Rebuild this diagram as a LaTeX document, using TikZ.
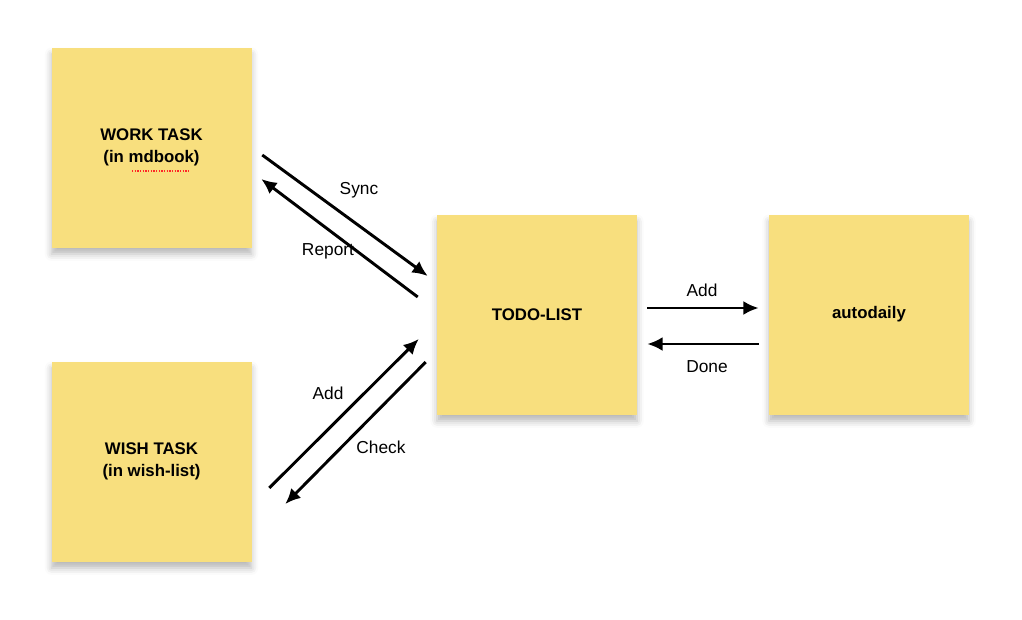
\documentclass[tikz,border=0pt]{standalone}
\usepackage{fontspec}
\setmainfont{Liberation Sans}
\usetikzlibrary{positioning,arrows.meta,shadows.blur}

\definecolor{stickyYellow}{HTML}{F8DF7E}

\begin{document}
\begin{tikzpicture}[x=0.75pt,y=-0.75pt,>={Latex[length=11.5pt,width=10.5pt]},
  note/.style={fill=stickyYellow,minimum size=150pt,inner sep=0pt,align=center,
    font=\fontsize{12.6}{16.2}\selectfont\bfseries,
    blur shadow={shadow xshift=0pt,shadow yshift=-5pt,shadow blur radius=5pt,shadow opacity=28}},
  lbl/.style={font=\fontsize{13}{15}\selectfont},
  flow/.style={->,line width=2.2pt}]
\useasboundingbox (0,0) rectangle (1022,619);
% sticky notes
\node[note] (work) at (151.5,147.5) {WORK TASK\\(in mdbook)};
\node[note] (wish) at (151.5,461.5) {WISH TASK\\(in wish-list)};
\node[note] (todo) at (537,314.5) {TODO-LIST};
\node[note] (auto) at (869,314.5) {autodaily};
\draw[red!85,dash pattern=on 1pt off 1pt,line width=0.9pt] (132,171) -- (190,171);
% work <-> todo
\draw[flow] ([shift={(10.5,7.5)}]work.east) -- ([shift={(-9,-38.5)}]todo.west);
\draw[flow] ([shift={(-19,-17.5)}]todo.west) -- ([shift={(9.5,31.5)}]work.east);
\node[lbl] (sync) at (359,190) {Sync};
\node[lbl] (report) at (328,251) {Report};
% wish <-> todo
\draw[flow] ([shift={(17.5,26.5)}]wish.east) -- ([shift={(-18,24.5)}]todo.west);
\draw[flow] ([shift={(-11,47.5)}]todo.west) -- ([shift={(33.5,42.5)}]wish.east);
\node[lbl] (add) at (328,393) {Add};
\node[lbl] (check) at (381,447) {Check};
% todo <-> autodaily
\draw[flow] ([shift={(10,-6.5)}]todo.east) -- ([shift={(-10,-6.5)}]auto.west);
\draw[flow] ([shift={(-10,29.5)}]auto.west) -- ([shift={(10,29.5)}]todo.east);
\node[lbl] (add2) at (702,290) {Add};
\node[lbl] (done) at (707,367) {Done};
\end{tikzpicture}
\end{document}
